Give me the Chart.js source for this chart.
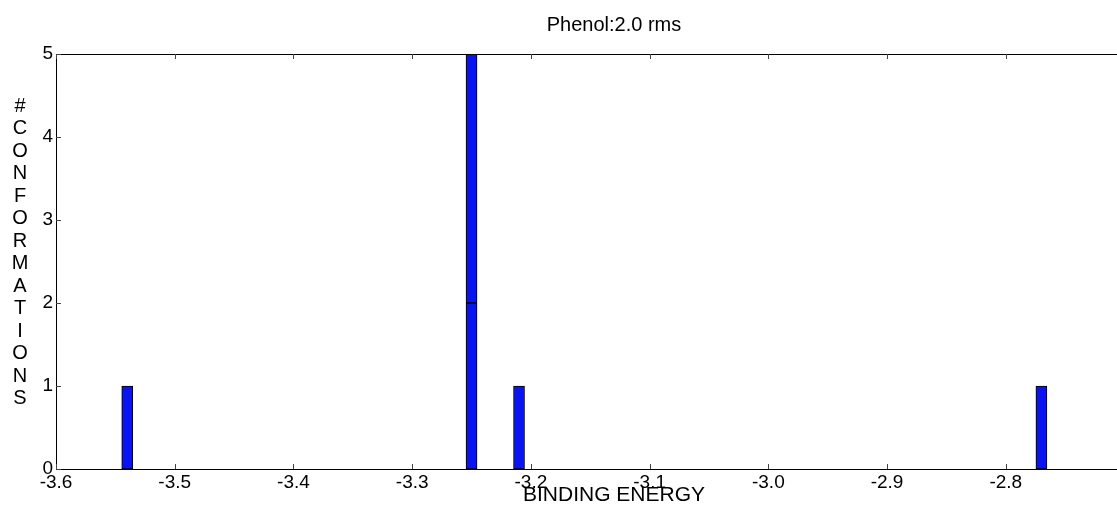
<!DOCTYPE html>
<html>
<head>
<meta charset="utf-8">
<script src="https://cdn.jsdelivr.net/npm/chart.js@4/dist/chart.umd.min.js"></script>
<style>
  html, body { margin: 0; padding: 0; background: #fff; overflow: hidden; }
  #wrap { position: relative; width: 1228px; height: 508px; }
</style>
</head>
<body>
<div id="wrap"><canvas id="hist"></canvas></div>
<script>
// histogram bins (bin centre on binding energy axis)
const energies = [-3.54, -3.25, -3.21, -2.77];
const countsLower = [1, 2, 1, 1];
const upperEnergies = [-3.25];
const countsUpper = [3];
const yTicks = [0, 1, 2, 3, 4, 5];
const xTicks = [-3.6, -3.5, -3.4, -3.3, -3.2, -3.1, -3.0, -2.9, -2.8];
const chartTitle = 'Phenol:2.0 rms';
const yTitleText = '#CONFORMATIONS';

const FONT = '"Liberation Sans", Arial, Helvetica, sans-serif';
const BLUE = 'rgb(10, 20, 240)';

function pts(xs, ys) {
  return xs.map((x, i) => ({ x: x, y: ys[i] }));
}

// box around the axes, inward tick marks, title centred on the axes,
// vertical letter-stacked y title
const axesDecor = {
  id: 'axesDecor',
  afterDraw(chart) {
    const { ctx, chartArea: a } = chart;
    const xs = chart.scales.x, ys = chart.scales.y;
    ctx.save();
    ctx.strokeStyle = '#000';
    ctx.lineWidth = 1;
    ctx.strokeRect(Math.round(a.left) + 0.5, Math.round(a.top) + 0.5,
      Math.round(a.right - a.left), Math.round(a.bottom - a.top));
    ctx.strokeStyle = '#444';
    ctx.beginPath();
    xTicks.forEach(v => {
      const px = Math.round(xs.getPixelForValue(v)) + 0.5;
      ctx.moveTo(px, a.bottom); ctx.lineTo(px, a.bottom - 5);
      ctx.moveTo(px, a.top); ctx.lineTo(px, a.top + 5);
    });
    yTicks.forEach(v => {
      const py = Math.round(ys.getPixelForValue(v)) + 0.5;
      ctx.moveTo(a.left, py); ctx.lineTo(a.left + 5, py);
    });
    ctx.stroke();

    ctx.fillStyle = '#000';
    ctx.textAlign = 'center';
    ctx.textBaseline = 'middle';
    ctx.font = '20px ' + FONT;
    ctx.fillText(chartTitle, (a.left + a.right) / 2, 25);

    const chars = yTitleText.split('');
    chars.forEach((ch, i) => ctx.fillText(ch, 20, 106 + i * 22.5));
    ctx.restore();
  }
};

new Chart(document.getElementById('hist'), {
  type: 'bar',
  data: {
    datasets: [
      { label: 'lower', data: pts(energies, countsLower), backgroundColor: BLUE,
        borderColor: '#000', borderWidth: 1, borderSkipped: false, barThickness: 11 },
      { label: 'upper', data: pts(upperEnergies, countsUpper), backgroundColor: BLUE,
        borderColor: '#000', borderWidth: 1, borderSkipped: false, barThickness: 11 }
    ]
  },
  options: {
    responsive: true,
    maintainAspectRatio: false,
    animation: false,
    layout: { padding: { left: 0, right: 56, top: 54, bottom: 0 } },
    plugins: {
      legend: { display: false },
      tooltip: { enabled: false },
      title: { display: false }
    },
    scales: {
      x: {
        type: 'linear',
        stacked: true,
        offset: false,
        min: -3.6,
        max: -2.66,
        grid: { display: false, drawTicks: false },
        border: { display: false },
        afterBuildTicks: s => { s.ticks = xTicks.map(v => ({ value: v })); },
        afterFit: s => { s.height = 39; },
        ticks: {
          color: '#000',
          padding: 2,
          maxRotation: 0,
          autoSkip: false,
          font: { family: FONT, size: 19 },
          callback: v => Number(v).toFixed(1)
        },
        title: {
          display: true,
          text: 'BINDING ENERGY',
          color: '#000',
          font: { family: FONT, size: 21 },
          padding: { top: 0, bottom: 0 }
        }
      },
      y: {
        stacked: true,
        min: 0,
        max: 5,
        grid: { display: false, drawTicks: false },
        border: { display: false },
        afterBuildTicks: s => { s.ticks = yTicks.map(v => ({ value: v })); },
        afterFit: s => { s.width = 56; },
        ticks: {
          color: '#000',
          padding: 3,
          font: { family: FONT, size: 19 },
          callback: v => String(v)
        }
      }
    }
  },
  plugins: [axesDecor]
});
</script>
</body>
</html>
